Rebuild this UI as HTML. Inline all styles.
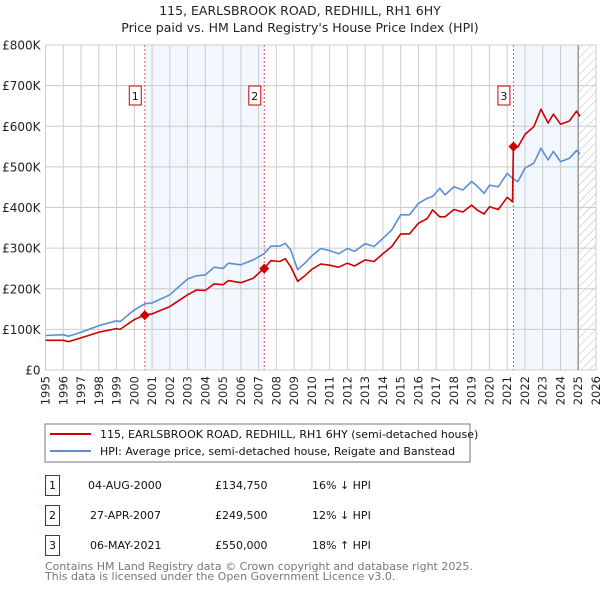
<!DOCTYPE html>
<html><head><meta charset="utf-8"><style>
body{margin:0;background:#fff;font-family:"Liberation Sans","DejaVu Sans",sans-serif;}
svg text{font-family:"DejaVu Sans","Liberation Sans",sans-serif;}
</style></head><body>
<svg id="c" width="600" height="590" xmlns="http://www.w3.org/2000/svg">
<defs><pattern id="hatch" width="6" height="6" patternUnits="userSpaceOnUse" patternTransform="rotate(45)"><line x1="0" y1="0" x2="0" y2="6" stroke="#bbb" stroke-width="1"/></pattern></defs>
<text x="300" y="15" text-anchor="middle" font-size="12.5" fill="#222">115, EARLSBROOK ROAD, REDHILL, RH1 6HY</text>
<text x="300" y="32" text-anchor="middle" font-size="12.5" fill="#222">Price paid vs. HM Land Registry's House Price Index (HPI)</text>
<g id="plot"></g>
<rect x="45" y="424" width="425" height="38" fill="#fff" stroke="#777"/>
<line x1="50" y1="434" x2="91" y2="434" stroke="#cc0000" stroke-width="2"/>
<text x="100" y="438" font-size="11" fill="#111">115, EARLSBROOK ROAD, REDHILL, RH1 6HY (semi-detached house)</text>
<line x1="50" y1="451" x2="91" y2="451" stroke="#5b8fd0" stroke-width="2"/>
<text x="100" y="455" font-size="11" fill="#111">HPI: Average price, semi-detached house, Reigate and Banstead</text>
<g font-size="11" fill="#111">
<rect x="45.5" y="475.5" width="14" height="20" fill="none" stroke="#c00"/><text x="52.5" y="489" text-anchor="middle">1</text>
<text x="88" y="489">04-AUG-2000</text><text x="215" y="489">£134,750</text><text x="312" y="489">16% ↓ HPI</text>
<rect x="45.5" y="505.5" width="14" height="20" fill="none" stroke="#c00"/><text x="52.5" y="519" text-anchor="middle">2</text>
<text x="90" y="519">27-APR-2007</text><text x="215" y="519">£249,500</text><text x="312" y="519">12% ↓ HPI</text>
<rect x="45.5" y="535.5" width="14" height="20" fill="none" stroke="#c00"/><text x="52.5" y="549" text-anchor="middle">3</text>
<text x="90" y="549">06-MAY-2021</text><text x="215" y="549">£550,000</text><text x="312" y="549">18% ↑ HPI</text>
</g>
<text x="45" y="570" font-size="11" fill="#777">Contains HM Land Registry data © Crown copyright and database right 2025.</text>
<text x="45" y="580" font-size="11" fill="#777">This data is licensed under the Open Government Licence v3.0.</text>
</svg>
<script>
const years=[1995,1996,1996.3,1997,1998,1999,1999.2,2000,2000.6,2001,2002,2003,2003.5,2004,2004.5,2005,2005.3,2006,2006.7,2007.3,2007.7,2008.2,2008.5,2008.8,2009.2,2009.6,2010,2010.5,2011,2011.5,2012,2012.4,2013,2013.5,2014,2014.5,2015,2015.5,2016,2016.5,2016.8,2017.2,2017.5,2018,2018.5,2019,2019.3,2019.7,2020,2020.5,2021,2021.3,2021.35,2021.6,2022,2022.5,2022.9,2023.3,2023.6,2024,2024.5,2024.9,2025.1];
const hpi=[85,87,83,93,109,121,119,148,163,165,185,224,232,234,253,250,263,259,271,286,305,305,312,296,247,263,281,299,294,286,299,292,311,304,324,345,382,382,410,423,427,447,431,451,443,464,453,435,455,451,484,472,470,464,497,509,546,517,538,513,521,540,532];
const price=[73,73,70,79,93,102,100,124,136,138,156,185,197,196,212,210,220,215,226,250,269,267,274,255,218,232,248,261,258,253,263,256,271,267,286,304,335,335,361,373,394,377,377,395,389,406,394,384,402,395,425,414,550,549,580,599,642,608,630,605,613,637,625];
const saleYears=[2000.59,2007.32,2021.35];
const salePrices=[134.75,249.5,550];
const saleLabels=["1","2","3"];
const yTicks=[0,100,200,300,400,500,600,700,800];
const yTickLabels=["£0","£100K","£200K","£300K","£400K","£500K","£600K","£700K","£800K"];
const xTicks=[];for(let y=1995;y<=2026;y++)xTicks.push(y);

const L=45.5,R=596,T=45,B=370,X0=1995,X1=2026;
const sx=v=>L+(v-X0)/(X1-X0)*(R-L);
const sy=v=>B-v/800*(B-T);
const NS="http://www.w3.org/2000/svg";
const g=document.getElementById('plot');
function mk(t,a){const e=document.createElementNS(NS,t);for(const k in a)e.setAttribute(k,a[k]);g.appendChild(e);return e;}
let e=mk('rect',{x:sx(saleYears[0]),y:T,width:sx(saleYears[1])-sx(saleYears[0]),height:B-T,fill:'#f2f6fd'});


e=mk('rect',{x:sx(saleYears[2]),y:T,width:sx(2025)-sx(saleYears[2]),height:B-T,fill:'#f2f6fd'});


e=mk('rect',{x:sx(2025),y:T,width:R-sx(2025),height:B-T,fill:'url(#hatch)'});


xTicks.forEach(v=>{const x=sx(v);const l=mk('line',{x1:x,y1:T,x2:x,y2:B,stroke:'#ccc','stroke-width':1});


const t=mk('text',{x:0,y:0,transform:`translate(${x+4},${B+6}) rotate(-90)`,'text-anchor':'end','font-size':11.5,fill:'#222'});t.textContent=v;

});
yTicks.forEach((v,i)=>{const y=sy(v);const l=mk('line',{x1:L,y1:y,x2:R,y2:y,stroke:'#ccc','stroke-width':1});


const t=mk('text',{x:L-5,y:y+4.5,'text-anchor':'end','font-size':12,fill:'#222'});t.textContent=yTickLabels[i];

});
e=mk('line',{x1:sx(2025),y1:T,x2:sx(2025),y2:B,stroke:'#999','stroke-width':1.5});


saleYears.forEach((v,i)=>{const x=sx(v);const l=mk('line',{x1:x,y1:T,x2:x,y2:B,stroke:'#e06060','stroke-dasharray':'2,2','stroke-width':1});


const r=mk('rect',{x:x-15.5,y:86,width:12,height:19,fill:'#fff',stroke:'#c00'});


const t=mk('text',{x:x-9.5,y:100,'text-anchor':'middle','font-size':11,fill:'#111'});t.textContent=saleLabels[i];

});
function line(arr,col,name){const d=arr.map((v,i)=>(i?'L':'M')+sx(years[i]).toFixed(1)+','+sy(v).toFixed(1)).join('');
const p=mk('path',{d:d,fill:'none',stroke:col,'stroke-width':1.6,'stroke-linejoin':'round'});

}
line(hpi,'#5b8fd0','hpi-line');
line(price,'#cc0000','price-paid-line');
saleYears.forEach((v,i)=>{const x=sx(v),y=sy(salePrices[i]);
const m=mk('path',{d:`M${x},${y-5}L${x+5},${y}L${x},${y+5}L${x-5},${y}Z`,fill:'#cc0000'});

});
</script>
</body></html>
